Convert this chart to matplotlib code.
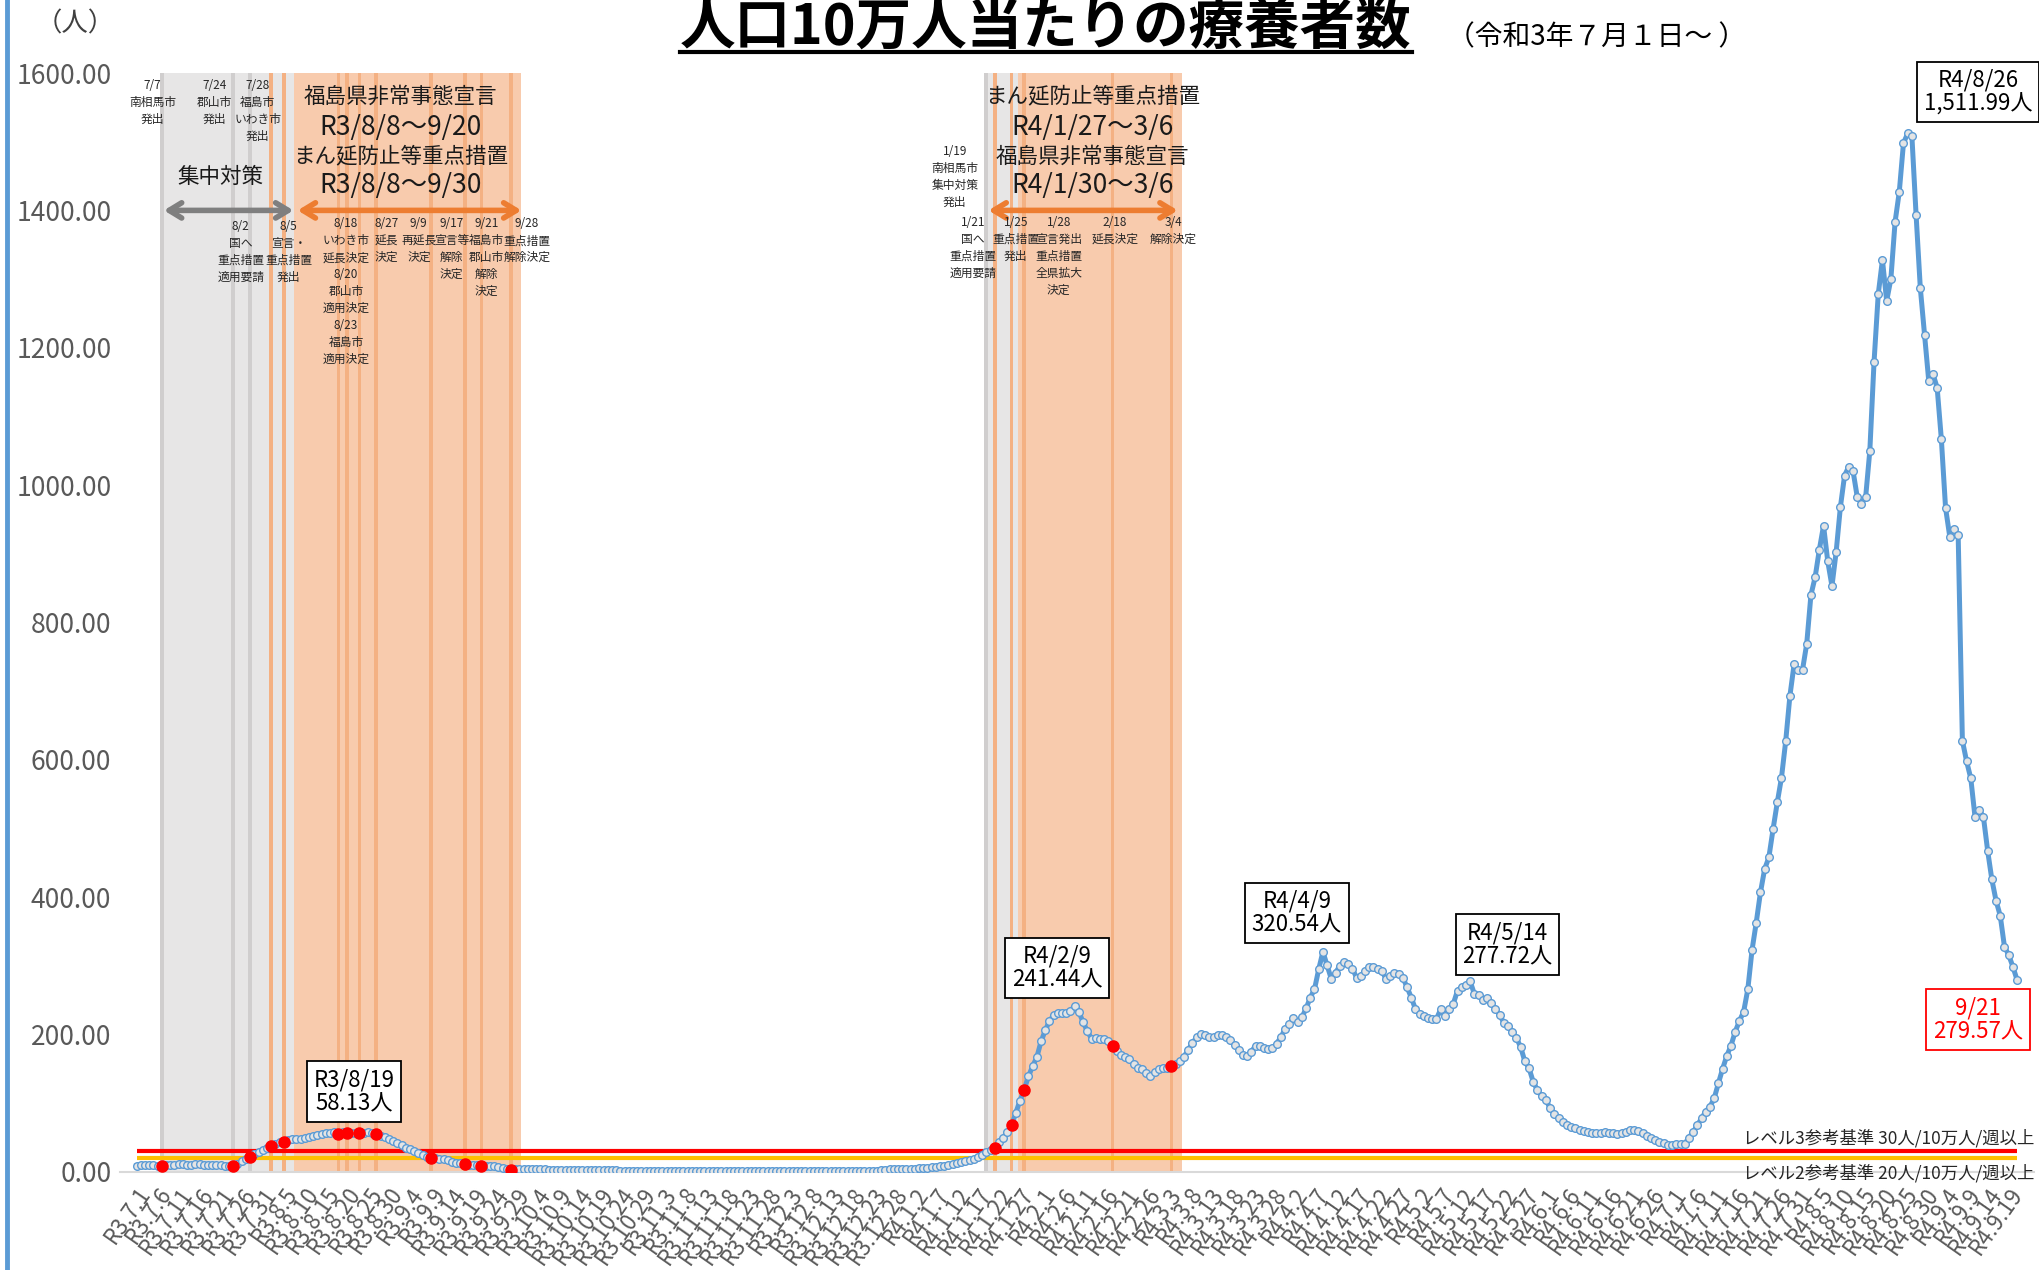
import pandas as pd
import numpy as np
import matplotlib
matplotlib.use("Agg")
import matplotlib.pyplot as plt
import matplotlib.dates as mdates
from matplotlib.lines import Line2D

plt.rcParams['font.family'] = ['Noto Sans CJK JP', 'DejaVu Sans']

# 人口10万人当たりの療養者数 (daily, R3/7/1 - R4/9/21)
jul21 = [9, 9.5, 9.5, 10, 9.5, 9, 9.2, 10, 10.5, 10.5, 11, 11, 10.5, 10.5, 11, 11,
         10.5, 10.5, 10, 10.5, 9.5, 9, 8.5, 9.2, 12, 15.5, 18.5, 21.7, 26, 29.5, 32]
aug21 = [35, 37.8, 40, 43, 43.8, 46, 47.5, 47.5, 48, 49.5, 51, 52.5, 54.5, 55.5, 56.5, 57,
         57.5, 55.5, 58.13, 56, 56.5, 57, 56, 56.5, 57.5, 57, 55.5, 53, 50.5, 48, 45.5]
sep21 = [42, 39, 35.5, 33, 30, 27.5, 25, 22.5, 20.7, 20.5, 19.5, 18.5, 17, 15, 13.5,
         12.5, 11.5, 10.5, 10, 9.5, 9.2, 9, 8.5, 8, 7, 6, 5, 3.5, 4.2, 4.4]
oct21 = [4.4, 4.2, 4.0, 3.9, 3.8, 3.6, 3.5, 3.4, 3.3, 3.2, 3.1, 3.0, 2.9, 2.8, 2.8, 2.7,
         2.6, 2.5, 2.5, 2.4, 2.3, 2.3, 2.2, 2.1, 2.1, 2.0, 2.0, 1.9, 1.9, 1.8, 1.8]
nov21 = [1.7, 1.7, 1.6, 1.6, 1.5, 1.5, 1.4, 1.4, 1.3, 1.3, 1.2, 1.2, 1.2, 1.1, 1.1,
         1.1, 1.0, 1.0, 1.0, 0.9, 0.9, 0.9, 0.9, 0.8, 0.8, 0.8, 0.8, 0.9, 0.9, 0.9]
dec21 = [1.0, 1.0, 1.0, 1.1, 1.1, 1.1, 1.2, 1.2, 1.2, 1.3, 1.3, 1.3, 1.4, 1.4, 1.4, 1.5,
         1.5, 1.5, 1.6, 1.6, 1.7, 1.8, 1.9, 2.0, 2.2, 3.5, 3.8, 4.0, 4.2, 4.4, 4.6]
jan22 = [4.8, 5.0, 5.3, 5.6, 6.0, 6.5, 7.2, 8.0, 9.0, 10.0, 11.5, 13.0, 14.5, 16.0, 17.5,
         19.5, 22.0, 25.0, 28.5, 32.0, 35.6, 43, 50, 58, 68, 86, 104, 120, 139, 154, 167]
feb22 = [190, 206, 220, 228, 231, 231, 232, 235, 241.44, 233, 218, 205, 194, 195, 194,
         193, 190, 184, 176, 170, 167, 165, 157, 151, 150, 144, 139, 145]
mar22 = [150, 151, 152, 154, 157, 162, 168, 178, 188, 196, 201, 199, 196, 197, 200, 200,
         197, 192, 185, 177, 171, 169, 175, 184, 184, 180, 179, 180, 187, 196, 208]
apr22 = [216, 224, 219, 225, 238, 254, 266, 295, 320.54, 301, 281, 290, 300, 306, 303,
         296, 283, 286, 292, 298, 298, 296, 293, 281, 286, 290, 288, 283, 269, 254]
may22 = [237, 230, 227, 224, 222, 223, 237, 227, 237, 245, 264, 269, 272, 277.72, 259, 257,
         251, 254, 246, 237, 229, 217, 212, 204, 195, 182, 161, 151, 131, 119, 110]
jun22 = [105, 93, 85, 78, 73, 69, 66, 64, 61, 60, 58, 57, 56.5, 56.5, 58, 57, 56, 55, 56.5,
         58, 61, 61, 60, 56.5, 52, 49, 47, 44, 42, 39]
jul22 = [39.5, 40, 40, 41, 50, 58, 68, 78, 88, 95, 107, 129, 150, 169, 184, 204, 220, 233,
         266, 323, 363, 407, 441, 458, 499, 538, 574, 627, 693, 739, 731]
aug22 = [731, 769, 840, 866, 906, 941, 889, 853, 903, 968, 1014, 1027, 1021, 983, 973, 982,
         1050, 1179, 1278, 1328, 1268, 1300, 1383, 1427, 1498, 1511.99, 1508, 1393, 1287,
         1219, 1152]
sep22 = [1162, 1142, 1067, 967, 925, 936, 927, 628, 598, 573, 517, 527, 517, 468, 426, 395,
         373, 328, 316, 299, 279.57]

values = (jul21 + aug21 + sep21 + oct21 + nov21 + dec21 + jan22 + feb22 + mar22
          + apr22 + may22 + jun22 + jul22 + aug22 + sep22)
dates = pd.date_range("2021-07-01", periods=len(values), freq="D")
series = pd.Series(values, index=dates)

# 集中対策 (gray) and 重点措置/宣言 (orange) periods, event days
gray_periods = [("2021-07-07", "2021-08-07"), ("2022-01-19", "2022-01-26")]
orange_periods = [("2021-08-08", "2021-09-30"), ("2022-01-27", "2022-03-06")]
gray_events = ["2021-07-07", "2021-07-24", "2021-07-28", "2022-01-19"]
orange_events = ["2021-08-02", "2021-08-05", "2021-08-18", "2021-08-20", "2021-08-23",
                 "2021-08-27", "2021-09-09", "2021-09-17", "2021-09-21", "2021-09-28",
                 "2022-01-21", "2022-01-25", "2022-01-28", "2022-02-18", "2022-03-04"]
red_dot_days = ["2021-07-07", "2021-07-24", "2021-07-28"] + orange_events

level3 = 30
level2 = 20

fig = plt.figure(figsize=(20.39, 12.70), dpi=100)
ax = fig.add_axes([0.0587, 0.0772, 0.9388, 0.8653])

t0 = mdates.date2num(dates[0])
ymax = 1600

# shaded background columns
for start, end in gray_periods:
    days = pd.date_range(start, end)
    ax.bar(days, ymax, width=1.0, color='#E7E6E6', linewidth=0, zorder=0)
for start, end in orange_periods:
    days = pd.date_range(start, end)
    ax.bar(days, ymax, width=1.0, color='#F8CBAD', linewidth=0, zorder=0)
ax.bar(pd.to_datetime(gray_events), ymax, width=0.9, color='#D0CECE', linewidth=0, zorder=0.5)
ax.bar(pd.to_datetime(orange_events), ymax, width=0.9, color='#F4B183', linewidth=0, zorder=0.5)

# reference levels
ax.hlines(level3, dates[0], dates[-1], color='#FF0000', lw=3, zorder=2)
ax.hlines(level2, dates[0], dates[-1], color='#FFC000', lw=3, zorder=2)
ax.text(t0 + 451, level3 + 19, "レベル3参考基準 30人/10万人/週以上", ha='right', va='center',
        fontsize=12.5, color='#262626', zorder=6)
ax.text(t0 + 451, level2 - 22, "レベル2参考基準 20人/10万人/週以上", ha='right', va='center',
        fontsize=12.5, color='#262626', zorder=6)

# main series
ax.plot(dates, values, color='#5B9BD5', lw=3.6, marker='o', ms=5.5,
        mfc='#E4E4E4', mec='#5B9BD5', mew=1.0, zorder=4)
red_days = pd.to_datetime(red_dot_days)
ax.plot(red_days, series[red_days].values, 'o', color='#FF0000', ms=8, zorder=5)

# peak labels
box = dict(boxstyle='square,pad=0.3', fc='white', ec='black', lw=1.3)
peaks = [("2021-08-19", "R3/8/19", 51.7, 117),
         ("2022-02-09", "R4/2/9", 218.9, 297),
         ("2022-04-09", "R4/4/9", 275.8, 377),
         ("2022-05-14", "R4/5/14", 325.9, 331)]
for day, lab, px, py in peaks:
    ax.text(t0 + px, py, f"{lab}\n{series[day]:.2f}人", ha='center', va='center',
            fontsize=16, linespacing=1.05, bbox=box, zorder=7)
ax.text(t0 + 437.7, 1572, f"R4/8/26\n{series['2022-08-26']:,.2f}人", ha='center',
        va='center', fontsize=16, linespacing=1.05, bbox=box, zorder=7)
ax.text(t0 + 437.7, 222, f"9/21\n{series.iloc[-1]:.2f}人", ha='center', va='center',
        fontsize=16, linespacing=1.05, color='#FF0000', zorder=7,
        bbox=dict(boxstyle='square,pad=0.3', fc='white', ec='#FF0000', lw=1.3))

# period arrows
arr = '<->,head_length=0.9,head_width=0.55'
ax.annotate('', xy=(t0 + 37.3, 1400), xytext=(t0 + 6.5, 1400),
            arrowprops=dict(arrowstyle=arr, color='#7F7F7F', lw=4, shrinkA=0, shrinkB=0), zorder=6)
ax.annotate('', xy=(t0 + 91.5, 1400), xytext=(t0 + 38.3, 1400),
            arrowprops=dict(arrowstyle=arr, color='#ED7D31', lw=4, shrinkA=0, shrinkB=0), zorder=6)
ax.annotate('', xy=(t0 + 247.5, 1400), xytext=(t0 + 202.5, 1400),
            arrowprops=dict(arrowstyle=arr, color='#ED7D31', lw=4, shrinkA=0, shrinkB=0), zorder=6)

# period headings
blocks = [(62.8, ["福島県非常事態宣言", "R3/8/8～9/20", "まん延防止等重点措置", "R3/8/8～9/30"]),
          (227.2, ["まん延防止等重点措置", "R4/1/27～3/6", "福島県非常事態宣言", "R4/1/30～3/6"])]
line_y = [1566, 1521, 1478, 1436]
for px, lines in blocks:
    for i, (txt, py) in enumerate(zip(lines, line_y)):
        ax.text(t0 + px, py, txt, ha='center', va='center', fontsize=19 if i % 2 else 15.5,
                color='#1a1a1a', zorder=6)
ax.text(t0 + 20, 1449, "集中対策", ha='center', va='center', fontsize=15.5, color='#1a1a1a', zorder=6)

small = dict(ha='center', va='top', fontsize=8.5, linespacing=1.4, color='#262626', zorder=6)
notes = [(3.8, 1592, "7/7\n南相馬市\n発出"),
         (18.6, 1592, "7/24\n郡山市\n発出"),
         (28.8, 1592, "7/28\n福島市\nいわき市\n発出"),
         (24.8, 1386, "8/2\n国へ\n重点措置\n適用要請"),
         (36.2, 1386, "8/5\n宣言・\n重点措置\n発出"),
         (49.8, 1390, "8/18\nいわき市\n延長決定\n8/20\n郡山市\n適用決定\n8/23\n福島市\n適用決定"),
         (59.4, 1390, "8/27\n延長\n決定"),
         (67.1, 1390, "9/9\n再延長\n決定"),
         (74.9, 1390, "9/17\n宣言等\n解除\n決定"),
         (83.2, 1390, "9/21\n福島市\n郡山市\n解除\n決定"),
         (92.8, 1390, "9/28\n重点措置\n解除決定"),
         (194.5, 1495, "1/19\n南相馬市\n集中対策\n発出"),
         (198.8, 1392, "1/21\n国へ\n重点措置\n適用要請"),
         (209.0, 1392, "1/25\n重点措置\n発出"),
         (219.2, 1392, "1/28\n宣言発出\n重点措置\n全県拡大\n決定"),
         (232.5, 1392, "2/18\n延長決定"),
         (246.4, 1392, "3/4\n解除決定")]
for px, py, txt in notes:
    ax.text(t0 + px, py, txt, **small)

# axes styling
ax.set_xlim(t0 - 4, t0 + 451)
ax.set_ylim(0, ymax)
ax.set_yticks(np.arange(0, 1601, 200))
ax.set_yticklabels([f"{v:.2f}" for v in np.arange(0, 1601, 200)], fontsize=19, color='#595959')
ticks = dates[::5]
ax.set_xticks(ticks)
ax.set_xticklabels([f"R{d.year - 2018}.{d.month}.{d.day}" for d in ticks], rotation=55,
                   ha='right', va='top', rotation_mode='anchor', fontsize=16, color='#595959')
ax.tick_params(axis='both', length=0)
ax.tick_params(axis='y', pad=6)
ax.tick_params(axis='x', pad=8)
for side in ['left', 'top', 'right']:
    ax.spines[side].set_visible(False)
ax.spines['bottom'].set_color('#D9D9D9')
ax.spines['bottom'].set_linewidth(1.5)

# titles
title = fig.text(0.513, 0.9785, "人口10万人当たりの療養者数", ha='center', va='center',
                 fontsize=40, fontweight='bold', color='black')
fig.text(0.783, 0.971, "（令和3年７月１日～ ）", ha='center', va='center', fontsize=20)
fig.text(0.037, 0.9815, "（人）", ha='center', va='center', fontsize=19, color='#404040')

fig.canvas.draw()
bb = title.get_window_extent().transformed(fig.transFigure.inverted())
fig.add_artist(Line2D([bb.x0, bb.x1], [0.959, 0.959], transform=fig.transFigure,
                      color='black', lw=3))
fig.add_artist(Line2D([0.0035, 0.0035], [0, 1], transform=fig.transFigure,
                      color='#5B9BD5', lw=3.5))

fig.savefig("out.png", dpi=100)
